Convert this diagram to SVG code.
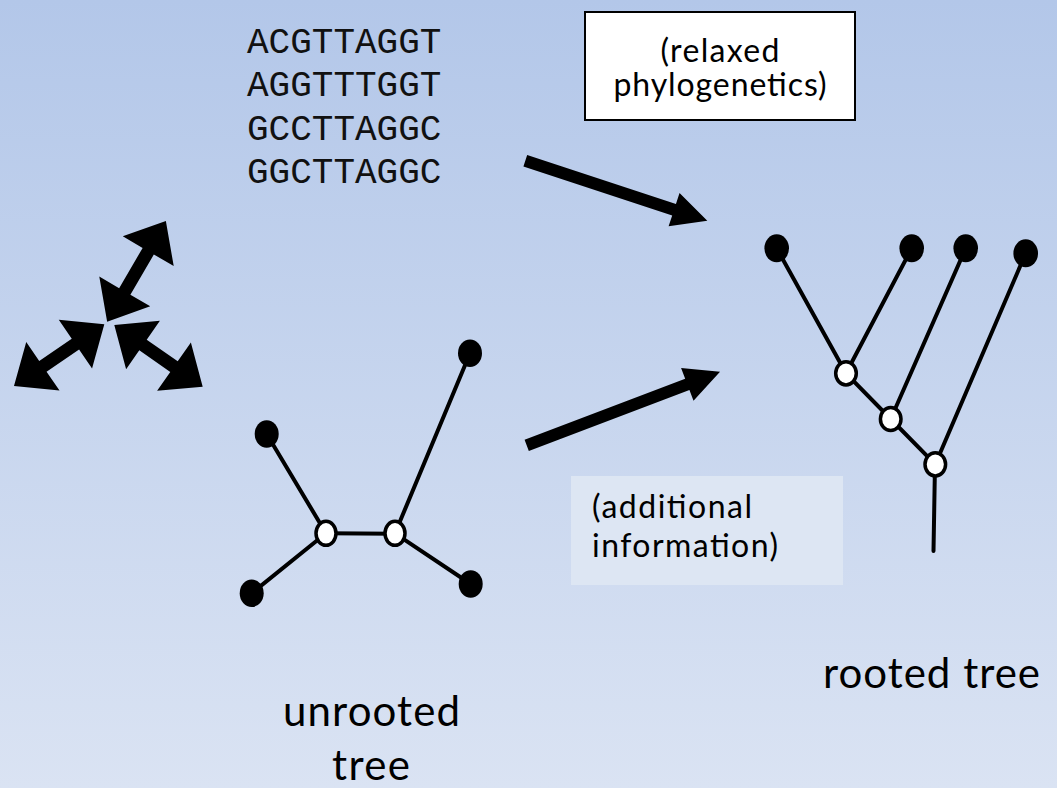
<svg xmlns="http://www.w3.org/2000/svg" width="1057" height="788" viewBox="0 0 1057 788">
  <defs>
    <linearGradient id="bg" x1="0" y1="0" x2="0" y2="1">
      <stop offset="0" stop-color="#b3c7e9"/>
      <stop offset="1" stop-color="#dae3f3"/>
    </linearGradient>
    <style>
      .seq { font-family: "Liberation Mono", "Courier New", monospace; font-size: 36px; fill: #111; }
      .lbl { font-family: Lato, "Open Sans", "Liberation Sans", sans-serif; fill: #000; }
      .edge { stroke: #000; stroke-width: 4; stroke-linecap: round; fill: none; }
      .leaf { fill: #000; }
      .inner { fill: #fff; stroke: #000; stroke-width: 3.5; }
      .arrow { fill: #000; }
    </style>
  </defs>
  <rect x="0" y="0" width="1057" height="788" fill="url(#bg)"/>

  <g id="sequences">
    <text class="seq" x="247" y="53">ACGTTAGGT</text>
    <text class="seq" x="247" y="96">AGGTTTGGT</text>
    <text class="seq" x="247" y="140">GCCTTAGGC</text>
    <text class="seq" x="247" y="183">GGCTTAGGC</text>
  </g>

  <g id="relaxed-box">
    <rect x="585" y="12" width="270" height="108" fill="#fff" stroke="#000" stroke-width="2"/>
    <text class="lbl" x="720" y="62" font-size="32" text-anchor="middle" textLength="119">(relaxed</text>
    <text class="lbl" x="720" y="96" font-size="32" text-anchor="middle" textLength="213">phylogenetics)</text>
  </g>

  <g id="additional-box">
    <rect x="571" y="476" width="272" height="109" fill="#dde6f3"/>
    <text class="lbl" x="592" y="518" font-size="32" textLength="160">(additional</text>
    <text class="lbl" x="592" y="557" font-size="32" textLength="186">information)</text>
  </g>

  <g id="rearrange-arrows">
    <polygon class="arrow" transform="translate(136.5,271.35) rotate(-59.76)" points="58.3,0 23.3,-29.5 23.3,-6.5 -23.3,-6.5 -23.3,-29.5 -58.3,0 -23.3,29.5 -23.3,6.5 23.3,6.5 23.3,29.5"/>
    <polygon class="arrow" transform="translate(59.15,355.15) rotate(-34.34)" points="54.7,0 19.7,-29.5 19.7,-6.5 -19.7,-6.5 -19.7,-29.5 -54.7,0 -19.7,29.5 -19.7,6.5 19.7,6.5 19.7,29.5"/>
    <polygon class="arrow" transform="translate(158.5,355.85) rotate(34.91)" points="53.9,0 18.9,-29.5 18.9,-6.5 -18.9,-6.5 -18.9,-29.5 -53.9,0 -18.9,29.5 -18.9,6.5 18.9,6.5 18.9,29.5"/>
  </g>

  <g id="connectors">
    <polygon class="arrow" transform="translate(525.3,160.8) rotate(18.2)" points="0,-6 156.6,-6 156.6,-17.5 191.6,0 156.6,17.5 156.6,6 0,6"/>
    <polygon class="arrow" transform="translate(526.7,445.3) rotate(-20.8)" points="0,-6 171.8,-6 171.8,-17.5 206.8,0 171.8,17.5 171.8,6 0,6"/>
  </g>

  <g id="unrooted-tree">
    <g id="unrooted-edges">
      <line class="edge" x1="266.7" y1="434" x2="326" y2="533.3"/>
      <line class="edge" x1="251.7" y1="593.3" x2="326" y2="533.3"/>
      <line class="edge" x1="326" y1="533.3" x2="395" y2="533.8"/>
      <line class="edge" x1="395" y1="533.3" x2="470" y2="353.3"/>
      <line class="edge" x1="395" y1="533.3" x2="470.7" y2="584"/>
    </g>
    <ellipse id="u-leaf-1" class="leaf" cx="470" cy="353.3" rx="12" ry="13.7"/>
    <ellipse id="u-leaf-2" class="leaf" cx="266.7" cy="434" rx="12" ry="13.7"/>
    <ellipse id="u-leaf-3" class="leaf" cx="251.7" cy="593.3" rx="12" ry="13.7"/>
    <ellipse id="u-leaf-4" class="leaf" cx="470.7" cy="584" rx="12" ry="13.7"/>
    <ellipse id="u-inner-1" class="inner" cx="326" cy="533.3" rx="10" ry="12"/>
    <ellipse id="u-inner-2" class="inner" cx="395" cy="533.3" rx="10" ry="12"/>
  </g>

  <g id="rooted-tree">
    <g id="rooted-edges">
      <line class="edge" x1="776.7" y1="248.3" x2="846" y2="373.3"/>
      <line class="edge" x1="911.7" y1="248.3" x2="846" y2="373.3"/>
      <line class="edge" x1="846" y1="373.3" x2="890.7" y2="419"/>
      <line class="edge" x1="965.7" y1="248.3" x2="890.7" y2="419"/>
      <line class="edge" x1="890.7" y1="419" x2="935.3" y2="464.3"/>
      <line class="edge" x1="1025.7" y1="253.3" x2="935.3" y2="464.3"/>
      <line class="edge" x1="935" y1="464.3" x2="933.5" y2="551" stroke-linecap="butt"/>
    </g>
    <ellipse id="r-leaf-1" class="leaf" cx="776.7" cy="248.3" rx="12.3" ry="14"/>
    <ellipse id="r-leaf-2" class="leaf" cx="911.7" cy="248.3" rx="12.3" ry="14"/>
    <ellipse id="r-leaf-3" class="leaf" cx="965.7" cy="248.3" rx="12.3" ry="14"/>
    <ellipse id="r-leaf-4" class="leaf" cx="1025.7" cy="253.3" rx="12.3" ry="14"/>
    <ellipse id="r-inner-1" class="inner" cx="846" cy="373.3" rx="10.3" ry="11.6"/>
    <ellipse id="r-inner-2" class="inner" cx="890.7" cy="419" rx="10.3" ry="11.6"/>
    <ellipse id="r-inner-3" class="inner" cx="935.3" cy="464.3" rx="10.3" ry="11.6"/>
  </g>

  <g id="labels">
    <text class="lbl" x="823" y="688" font-size="42" textLength="217">rooted tree</text>
    <text class="lbl" x="371.5" y="726" font-size="42" text-anchor="middle" textLength="177">unrooted</text>
    <text class="lbl" x="371" y="780" font-size="42" text-anchor="middle" textLength="78">tree</text>
  </g>
</svg>
